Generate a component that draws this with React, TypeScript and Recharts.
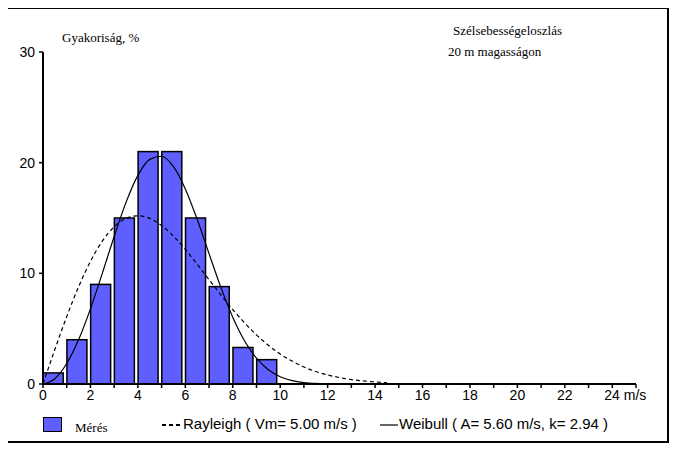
import React from 'react';
import { ComposedChart, Bar, Line, XAxis, YAxis } from 'recharts';

// measured frequency per 1 m/s bin (%)
const binStarts = [0, 1, 2, 3, 4, 5, 6, 7, 8, 9];
const measured = [1.0, 4.0, 9.0, 15.0, 21.0, 21.0, 15.0, 8.8, 3.3, 2.2];

// fitted curves
const curveSpeeds = [0, 0.5, 1, 1.5, 2, 2.5, 3, 3.5, 4, 4.5, 5, 5.5, 6, 6.5, 7, 7.5, 8, 8.5, 9, 9.5, 10, 10.5, 11, 11.5, 12, 12.5, 13, 13.5, 14, 14.5];
const weibull = [0, 0.48, 1.85, 3.99, 6.79, 10.0, 13.33, 16.41, 18.85, 20.3, 20.58, 19.64, 17.63, 14.88, 11.78, 8.73, 6.04, 3.89, 2.33, 1.29, 0.66, 0.31, 0.13, 0.05, 0.02, 0, 0, 0, 0, 0];
const rayleigh = [0, 3.12, 6.09, 8.78, 11.08, 12.91, 14.21, 14.97, 15.2, 14.97, 14.32, 13.36, 12.17, 10.83, 9.43, 8.05, 6.73, 5.52, 4.44, 3.5, 2.71, 2.07, 1.54, 1.13, 0.82, 0.58, 0.4, 0.28, 0.19, 0.12];

const xTicks = [0, 1, 2, 3, 4, 5, 6, 7, 8, 9, 10, 11, 12, 13, 14, 15, 16, 17, 18, 19, 20, 21, 22, 23, 24, 25];
const yTicks = [0, 10, 20, 30];

const barData = binStarts.map((b, i) => ({ x: b + 0.42, v: measured[i] }));
const weibullData = curveSpeeds.map((x, i) => ({ x, y: weibull[i] }));
const rayleighData = curveSpeeds.map((x, i) => ({ x, y: rayleigh[i] }));

const BLUE = '#5f5fff';
const BAR_W = 20;
const sans = 'Arial, "Liberation Sans", sans-serif';
const serif = '"Times New Roman", "Liberation Serif", serif';

const XTick = (props: any) => {
  const { x, y, payload } = props;
  const v = payload.value;
  if (v % 2 !== 0 || v > 24) return null;
  if (v === 24) {
    return (
      <text x={x - 8} y={y} dy="0.71em" textAnchor="start" fontSize={14} fontFamily={sans} fill="#000">
        24 m/s
      </text>
    );
  }
  return (
    <text x={x} y={y} dy="0.71em" textAnchor="middle" fontSize={14} fontFamily={sans} fill="#000">
      {v}
    </text>
  );
};

// recharts shrinks bars on a number axis, so widen them around their centre
const BinBar = (props: any) => {
  const { x, y, width, height } = props;
  const cx = x + width / 2;
  return (
    <rect x={cx - BAR_W / 2} y={y} width={BAR_W} height={height} fill={BLUE} stroke="#000" strokeWidth={1.5} />
  );
};

export default function App() {
  return (
    <div style={{ position: 'relative', width: 679, height: 448 }}>
      <div
        style={{
          position: 'absolute',
          left: -2,
          top: -1,
          width: 663,
          height: 436,
          border: '2px solid #000',
          boxSizing: 'border-box',
        }}
      />
      <div style={{ position: 'absolute', left: 677, top: -8, width: 2, height: 456, background: '#f4a0a0' }} />
      <div style={{ position: 'absolute', left: -8, top: -8 }}>
        <ComposedChart
          width={687}
          height={456}
          data={barData}
          margin={{ top: 52, right: 51, bottom: 42, left: 0 }}
        >
          <XAxis
            dataKey="x"
            type="number"
            domain={[0, 25]}
            ticks={xTicks}
            interval={0}
            tick={<XTick />}
            tickSize={4}
            tickMargin={2}
            height={30}
            axisLine={{ stroke: '#000', strokeWidth: 2 }}
            tickLine={{ stroke: '#000', strokeWidth: 1.5 }}
          />
          <YAxis
            type="number"
            domain={[0, 30]}
            ticks={yTicks}
            interval={0}
            width={43}
            tickSize={4}
            tickMargin={4}
            axisLine={{ stroke: '#000', strokeWidth: 2 }}
            tickLine={{ stroke: '#000', strokeWidth: 1.5 }}
            tick={{ fill: '#000', fontSize: 14, fontFamily: sans }}
          />
          <Bar dataKey="v" shape={<BinBar />} isAnimationActive={false} />
          <Line
            data={rayleighData}
            dataKey="y"
            type="monotone"
            stroke="#000"
            strokeWidth={1.2}
            strokeDasharray="4 3"
            dot={false}
            isAnimationActive={false}
          />
          <Line
            data={weibullData}
            dataKey="y"
            type="monotone"
            stroke="#000"
            strokeWidth={1.2}
            dot={false}
            isAnimationActive={false}
          />
        </ComposedChart>
      </div>

      {/* titles */}
      <div style={{ position: 'absolute', left: 54, top: 22, fontFamily: serif, fontSize: 13, whiteSpace: 'nowrap' }}>
        Gyakoriság, %
      </div>
      <div style={{ position: 'absolute', left: 445, top: 15, fontFamily: serif, fontSize: 13, whiteSpace: 'nowrap' }}>
        Szélsebességeloszlás
      </div>
      <div style={{ position: 'absolute', left: 440, top: 36, fontFamily: serif, fontSize: 13, whiteSpace: 'nowrap' }}>
        20 m magasságon
      </div>

      {/* legend */}
      <div
        style={{
          position: 'absolute',
          left: 35,
          top: 409,
          width: 19,
          height: 15,
          background: BLUE,
          border: '1.5px solid #000',
          boxSizing: 'border-box',
        }}
      />
      <div style={{ position: 'absolute', left: 67, top: 412, fontFamily: serif, fontSize: 13, whiteSpace: 'nowrap' }}>
        Mérés
      </div>
      <svg style={{ position: 'absolute', left: 154, top: 412 }} width={20} height={10}>
        <line x1={0} y1={5} x2={20} y2={5} stroke="#000" strokeWidth={2} strokeDasharray="4 3" />
      </svg>
      <div style={{ position: 'absolute', left: 175, top: 407, fontFamily: sans, fontSize: 15, whiteSpace: 'nowrap' }}>
        Rayleigh ( Vm= 5.00 m/s )
      </div>
      <svg style={{ position: 'absolute', left: 372, top: 412 }} width={18} height={10}>
        <line x1={0} y1={5} x2={18} y2={5} stroke="#000" strokeWidth={1.2} />
      </svg>
      <div style={{ position: 'absolute', left: 391, top: 407, fontFamily: sans, fontSize: 15, whiteSpace: 'nowrap' }}>
        Weibull ( A= 5.60 m/s, k= 2.94 )
      </div>
    </div>
  );
}
